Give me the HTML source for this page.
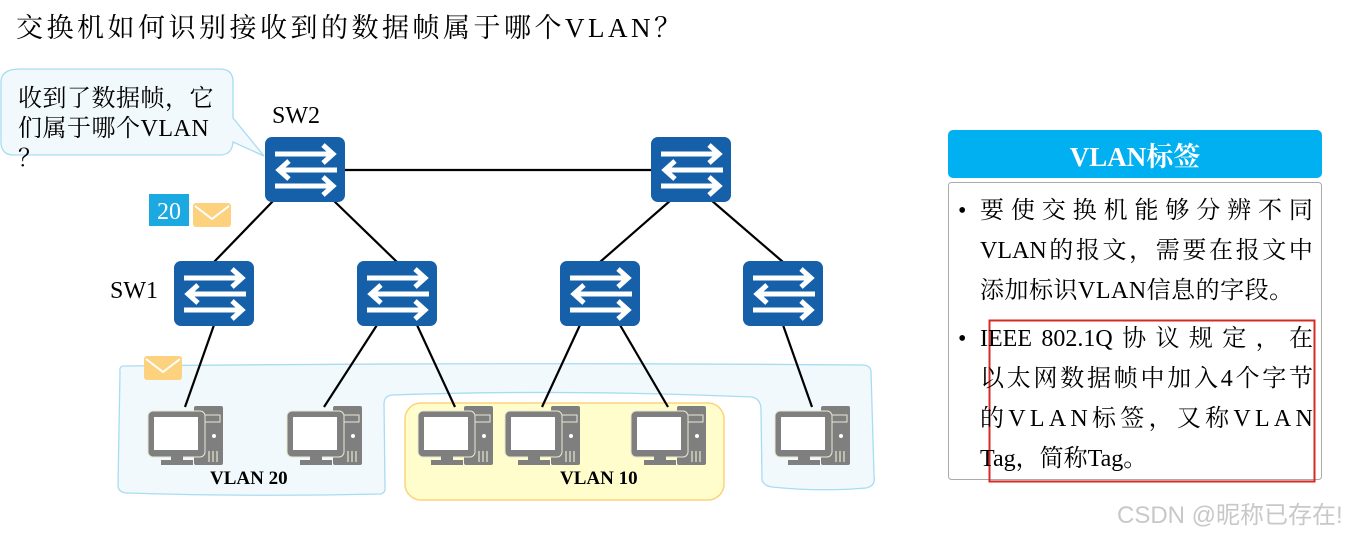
<!DOCTYPE html>
<html><head><meta charset="utf-8"><style>
body{margin:0;background:#fff;width:1360px;height:534px;overflow:hidden;position:relative;font-family:"Liberation Serif","Noto Serif CJK SC","Noto Sans CJK SC",serif}
.t{position:absolute;white-space:nowrap}
.j{display:flex;justify-content:space-between;width:333px;height:40px;line-height:40px;white-space:nowrap}
.l{display:block;height:40px;line-height:40px;white-space:nowrap}
</style></head><body>
<svg width="1360" height="534" style="position:absolute;left:0;top:0">
<defs>
<g id="sw">
<rect x="0" y="0" width="80" height="65" rx="7" fill="#1660aa"/>
<g stroke="#fff" stroke-width="5" fill="none" stroke-linecap="butt">
<line x1="10" y1="17" x2="68" y2="17"/><polyline points="58,8 68,17 58,26"/>
<line x1="14" y1="33" x2="72" y2="33"/><polyline points="24,24 14,33 24,42"/>
<line x1="10" y1="49" x2="68" y2="49"/><polyline points="58,40 68,49 58,58"/>
</g></g>
<g id="pc">
<rect x="45" y="0" width="29" height="59" rx="2" fill="#7f7f7f"/>
<rect x="49" y="9" width="22" height="7" fill="none" stroke="#e8e8d0" stroke-width="1"/>
<circle cx="65" cy="30" r="2" fill="#fff"/>
<g stroke="#e8e8d0" stroke-width="1.2"><line x1="60" y1="45" x2="60" y2="56"/><line x1="64" y1="45" x2="64" y2="56"/><line x1="68" y1="45" x2="68" y2="56"/></g>
<rect x="-1" y="5" width="57" height="46" rx="5" fill="#7f7f7f" stroke="#e8e8d0" stroke-width="1"/>
<rect x="5" y="11" width="44" height="33" fill="#fff"/>
<rect x="22" y="50" width="12" height="6" fill="#7f7f7f"/>
<rect x="12" y="54" width="32" height="5" fill="#7f7f7f"/>
</g>
<g id="env"><rect x="0" y="0" width="38" height="24" rx="3" fill="#fdd27f"/><polyline points="2,3 19,16 36,3" fill="none" stroke="#fff" stroke-width="2"/></g>
</defs>
<path d="M124,366 Q119,366 120,372 L118,485 Q118,492 126,493 Q250,497 380,494 Q386,493 385,487 L384,404 Q384,396 392,395 Q560,389 752,397 Q761,399 761,410 L762,480 Q764,486 772,487 Q820,492 866,488 Q876,486 874,476 L871,371 Q870,365 862,365 Q500,362 124,366 Z" fill="#f2f9fd" stroke="#a8dcf2" stroke-width="1.3"/>
<rect x="405" y="403" width="319" height="97" rx="16" fill="#fffdcc" stroke="#fcd37e" stroke-width="1.5"/>
<path d="M20,69 L220,69 Q233,69 233,82 L233,118 L264,156 L233,142 Q232,155 220,155 L14,155 Q1,155 1,142 L1,82 Q1,69 20,69 Z" fill="#f2f9fd" stroke="#a8dcf2" stroke-width="1.3"/>
<g stroke="#000" stroke-width="2.2">
<line x1="345" y1="170" x2="651" y2="170"/>
<line x1="274" y1="200" x2="214" y2="262"/><line x1="333" y1="200" x2="397" y2="262"/>
<line x1="671" y1="200" x2="600" y2="262"/><line x1="711" y1="200" x2="783" y2="262"/>
<line x1="214" y1="325" x2="185" y2="407"/><line x1="377" y1="325" x2="324" y2="407"/>
<line x1="417" y1="325" x2="455" y2="407"/><line x1="580" y1="325" x2="542" y2="407"/>
<line x1="620" y1="325" x2="668" y2="407"/><line x1="783" y1="325" x2="812" y2="407"/>
</g>
<use href="#sw" x="265" y="137"/><use href="#sw" x="651" y="137"/>
<use href="#sw" x="174" y="261"/><use href="#sw" x="357" y="261"/>
<use href="#sw" x="560" y="261"/><use href="#sw" x="743" y="261"/>
<use href="#pc" x="149" y="406"/><use href="#pc" x="288" y="406"/>
<use href="#pc" x="419" y="406"/><use href="#pc" x="506" y="406"/>
<use href="#pc" x="632" y="406"/><use href="#pc" x="776" y="406"/>
<rect x="149" y="194" width="40" height="32" fill="#1ca8e0"/>
<text x="169" y="219" font-size="24" fill="#fff" text-anchor="middle" font-family="Liberation Serif">20</text>
<use href="#env" x="193" y="203"/>
<use href="#env" x="144" y="356"/>
<rect x="948" y="130" width="374" height="48" rx="5" fill="#00b0f0"/>
<rect x="948.5" y="182.5" width="373" height="297" rx="3" fill="#fff" stroke="#aaa" stroke-width="1"/>
<rect x="989.5" y="320.5" width="325" height="161" fill="none" stroke="#d42b25" stroke-width="2"/>
</svg>
<div class="t" style="left:16px;top:6px;font-size:27px;letter-spacing:3.5px">交换机如何识别接收到的数据帧属于哪个VLAN？</div>
<div class="t" style="left:18px;top:84px;font-size:24px;line-height:30px;letter-spacing:0.5px">收到了数据帧，它<br>们属于哪个VLAN<br>？</div>
<div class="t" style="left:272px;top:103px;font-size:24px">SW2</div>
<div class="t" style="left:110px;top:278px;font-size:24px">SW1</div>
<div class="t" style="left:210px;top:468px;font-size:19px;font-weight:bold">VLAN 20</div>
<div class="t" style="left:560px;top:468px;font-size:19px;font-weight:bold">VLAN 10</div>
<div class="t" style="left:948px;top:135px;width:374px;text-align:center;color:#fff;font-size:27px;font-weight:bold">VLAN标签</div>
<div class="t" style="left:958px;top:191px;font-size:24px;line-height:40px">•</div>
<div class="t" style="left:980px;top:191px;font-size:24px">
<div class="j"><span>要</span><span>使</span><span>交</span><span>换</span><span>机</span><span>能</span><span>够</span><span>分</span><span>辨</span><span>不</span><span>同</span></div>
<div class="j"><span>VLAN</span><span>的</span><span>报</span><span>文</span><span>，</span><span>需</span><span>要</span><span>在</span><span>报</span><span>文</span><span>中</span></div>
<div class="l" style="letter-spacing:0.5px">添加标识VLAN信息的字段。</div></div>
<div class="t" style="left:958px;top:319px;font-size:24px;line-height:40px">•</div>
<div class="t" style="left:980px;top:319px;font-size:24px">
<div class="j"><span>IEEE</span><span>802.1Q</span><span>协</span><span>议</span><span>规</span><span>定</span><span>，</span><span>在</span></div>
<div class="j"><span>以</span><span>太</span><span>网</span><span>数</span><span>据</span><span>帧</span><span>中</span><span>加</span><span>入</span><span>4</span><span>个</span><span>字</span><span>节</span></div>
<div class="j"><span>的</span><span>V</span><span>L</span><span>A</span><span>N</span><span>标</span><span>签</span><span>，</span><span>又</span><span>称</span><span>V</span><span>L</span><span>A</span><span>N</span></div>
<div class="l">Tag，简称Tag。</div></div>
<div class="t" style="left:1117px;top:495px;font-size:24px;color:#c8c8c8;font-family:'Liberation Sans','Noto Sans CJK SC',sans-serif">CSDN @昵称已存在!</div>
</body></html>
